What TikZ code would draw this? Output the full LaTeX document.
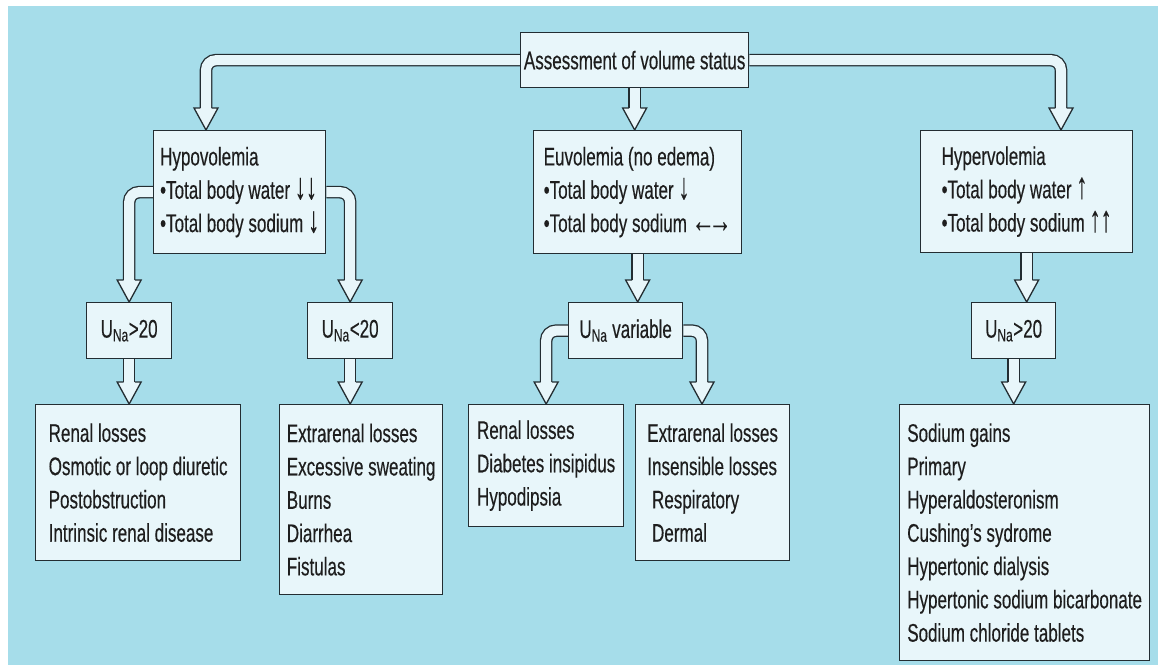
\documentclass[tikz,border=0pt]{standalone}
\usepackage{fontspec}
\usepackage{graphicx}
\setmainfont{Liberation Sans}[FakeStretch=0.668,FakeBold=0.3]
\usetikzlibrary{calc}
\definecolor{bgblue}{RGB}{166,221,234}
\definecolor{boxfill}{RGB}{232,246,250}
\definecolor{lineclr}{RGB}{35,45,50}
\definecolor{txt}{RGB}{30,30,30}
\pgfdeclarelayer{bglayer}
\pgfdeclarelayer{connect}
\pgfsetlayers{bglayer,connect,main}
\newcommand\headdown[1]{\filldraw[head] ([shift={(-5.65,-22)}]#1) -- ++(-6.35,0) -- (#1) -- ++(12,-22) -- ++(-6.35,0);}
\newcommand\dnar{\scalebox{1.3}[1.45]{↓}}
\newcommand\upar{\scalebox{1.3}[1.45]{↑}}
\newcommand\lrar{\scalebox{1.35}[1.35]{←\kern-4.5pt→}}
\begin{document}
\begin{tikzpicture}[x=1pt,y=-1pt,
  box/.style={draw=lineclr, fill=boxfill, line width=1.3pt, font=\fontsize{25.5}{33.3}\selectfont, text=txt},
  lbox/.style={box, anchor=north west, align=left, inner sep=2pt},
  cbox/.style={box, anchor=north west, align=center, inner sep=0pt},
  band/.style={draw=lineclr, double=boxfill, double distance=10pt, line width=1.3pt, rounded corners=10pt},
  head/.style={draw=lineclr, fill=boxfill, line width=1.3pt, line join=miter}]
\useasboundingbox (0,0) rectangle (1158,670);
\begin{pgfonlayer}{bglayer}
\fill[white] (0,0) rectangle (1158,670);
\fill[bgblue] (8,6) rectangle (1158,665);
\end{pgfonlayer}

% boxes
\node[cbox, minimum width=228pt, minimum height=55pt] (assess) at (520,32) {Assessment of volume status};
\node[lbox, minimum width=172pt, minimum height=123pt] (hypo) at (153,130) {Hypovolemia\\•Total body water \dnar\dnar\\•Total body sodium \dnar};
\node[lbox, minimum width=208pt, minimum height=123pt] (eu) at (533,130) {Euvolemia (no edema)\\•Total body water \dnar\\•Total body sodium \lrar};
\node[lbox, minimum width=212pt, minimum height=122pt] (hyper) at (920,130) {Hypervolemia\\•Total body water \upar\\•Total body sodium \upar\upar};

\node[cbox, minimum width=85pt, minimum height=56pt] (una1) at (86,302) {U\textsubscript{Na}>20};
\node[cbox, minimum width=85pt, minimum height=56pt] (una2) at (307,302) {U\textsubscript{Na}<20};
\node[cbox, minimum width=114pt, minimum height=56pt] (unav) at (568,302) {U\textsubscript{Na} variable};
\node[cbox, minimum width=84pt, minimum height=56pt] (una3) at (971,302) {U\textsubscript{Na}>20};

\node[lbox, minimum width=205pt, minimum height=156pt] (renal1) at (35,404) {Renal losses\\Osmotic or loop diuretic\\Postobstruction\\Intrinsic renal disease};
\node[lbox, minimum width=163pt, minimum height=190pt] (extra1) at (279,404) {Extrarenal losses\\Excessive sweating\\Burns\\Diarrhea\\Fistulas};
\node[lbox, minimum width=155pt, minimum height=122pt] (renal2) at (468,404) {Renal losses\\Diabetes insipidus\\Hypodipsia};
\node[lbox, minimum width=154pt, minimum height=156pt] (extra2) at (635,404) {Extrarenal losses\\Insensible losses\\\ Respiratory\\\ Dermal};
\node[lbox, minimum width=250pt, minimum height=256pt] (sodium) at (899,404) {Sodium gains\\Primary\\Hyperaldosteronism\\Cushing's sydrome\\Hypertonic dialysis\\Hypertonic sodium bicarbonate\\Sodium chloride tablets};

% connectors
\begin{pgfonlayer}{connect}
\coordinate (tHypo) at ([xshift=53pt]hypo.north west);
\coordinate (tHyper) at ([xshift=141pt]hyper.north west);
\coordinate (tEu) at (assess.south |- eu.north);
\coordinate (tR1) at (una1.south |- renal1.north);
\coordinate (tE1) at (una2.south |- extra1.north);
\coordinate (tU) at (eu.south |- unav.north);
\coordinate (tE2) at ([xshift=67pt]extra2.north west);
\coordinate (tU3) at (hyper.south |- una3.north);
\coordinate (tS) at (una3.south |- sodium.north);

\draw[band] (assess.west) -| ([yshift=21pt]tHypo); \headdown{tHypo}
\draw[band] (assess.east) -| ([yshift=21pt]tHyper); \headdown{tHyper}
\draw[band] (assess.south) -- ([yshift=21pt]tEu); \headdown{tEu}

\draw[band] (hypo.west) -| ([yshift=21pt]una1.north); \headdown{una1.north}
\draw[band] (hypo.east) -| ([yshift=21pt]una2.north); \headdown{una2.north}
\draw[band] (una1.south) -- ([yshift=21pt]tR1); \headdown{tR1}
\draw[band] (una2.south) -- ([yshift=21pt]tE1); \headdown{tE1}

\draw[band] (eu.south) -- ([yshift=21pt]tU); \headdown{tU}
\draw[band] (unav.west) -| ([yshift=21pt]renal2.north); \headdown{renal2.north}
\draw[band] (unav.east) -| ([yshift=21pt]tE2); \headdown{tE2}

\draw[band] (hyper.south) -- ([yshift=21pt]tU3); \headdown{tU3}
\draw[band] (una3.south) -- ([yshift=21pt]tS); \headdown{tS}
\end{pgfonlayer}
\end{tikzpicture}
\end{document}
